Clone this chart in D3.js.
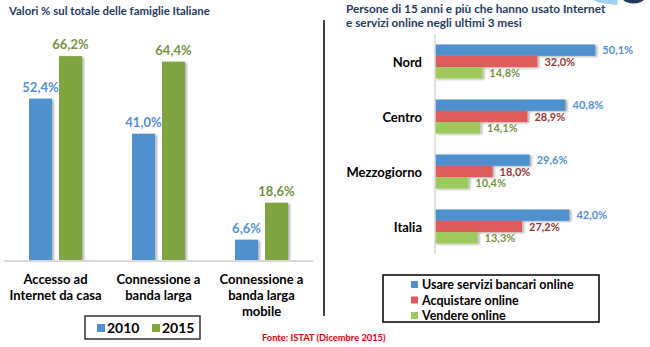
<!DOCTYPE html>
<html>
<head>
<meta charset="utf-8">
<script src="https://cdn.jsdelivr.net/npm/d3@7"></script>
<style>
  body { margin: 0; background: #fff; }
  svg { display: block; font-family: Lato, "Open Sans", sans-serif; }
</style>
</head>
<body>
<div id="chart"></div>
<script>
// Famiglie: accesso e connessione
const categories = ["Accesso ad\nInternet da casa", "Connessione a\nbanda larga", "Connessione a\nbanda larga\nmobile"];
const years = ["2010", "2015"];
const values2010 = [52.4, 41.0, 6.6];
const values2015 = [66.2, 64.4, 18.6];

// Persone 15+ che usano servizi online
const regions = ["Nord", "Centro", "Mezzogiorno", "Italia"];
const services = ["Usare servizi bancari online", "Acquistare online", "Vendere online"];
const bancari = [50.1, 40.8, 29.6, 42.0];
const acquisti = [32.0, 28.9, 18.0, 27.2];
const vendite = [14.8, 14.1, 10.4, 13.3];

const W = 650, H = 347;
const it = d3.formatLocale({decimal: ",", thousands: ".", grouping: [3], currency: ["", "€"]});
const pct = v => it.format(".1f")(v) + "%";

const navy = "#1F3B63";
const leftFill = {"2010": "#4F90CE", "2015": "#7FA53F"};
const leftText = {"2010": "#4F90D8", "2015": "#77933C"};
const rightFill = ["#4F90CE", "#DE5B5B", "#9CCB5C"];
const rightText = ["#4F90D8", "#953735", "#77933C"];

const svg = d3.select("#chart").append("svg")
    .attr("width", W)
    .attr("height", H);

// soft shadow under the bars
const defs = svg.append("defs");
defs.append("filter")
    .attr("id", "shadow")
    .attr("x", "-20%").attr("y", "-20%").attr("width", "150%").attr("height", "150%")
  .append("feDropShadow")
    .attr("dx", 2).attr("dy", 1).attr("stdDeviation", 1)
    .attr("flood-color", "#000").attr("flood-opacity", 0.3);

// logo corner top right
svg.append("path")
    .attr("d", "M593,0 L618,0 L617,5 L600,3 Z")
    .attr("fill", "#9CD3F0");
svg.append("circle")
    .attr("cx", 633.5).attr("cy", -14).attr("r", 17.5)
    .attr("fill", "#1F3B63");

// ---- left chart ----
svg.append("text")
    .attr("x", 9).attr("y", 15)
    .attr("font-size", 11.4).attr("font-weight", "bold")
    .attr("fill", navy)
    .text("Valori % sul totale delle famiglie Italiane");

const base = 260;
const x0 = d3.scaleBand()
    .domain(categories)
    .range([4, 313]);

const x1 = d3.scaleBand()
    .domain(years)
    .range([x0.bandwidth() / 2 - 26.5, x0.bandwidth() / 2 + 26.5])
    .paddingInner(0.233);

const yL = d3.scaleLinear()
    .domain([0, 75])
    .range([base, 29]);

const leftData = categories.map((c, i) => ({
    cat: c,
    vals: [{year: "2010", v: values2010[i]}, {year: "2015", v: values2015[i]}]
}));

const groups = svg.selectAll("g.grp")
    .data(leftData)
    .enter()
  .append("g")
    .attr("class", "grp")
    .attr("transform", d => `translate(${x0(d.cat)},0)`);

groups.selectAll("rect")
    .data(d => d.vals)
    .enter()
  .append("rect")
    .attr("x", d => x1(d.year))
    .attr("y", d => yL(d.v))
    .attr("width", x1.bandwidth())
    .attr("height", d => base - yL(d.v))
    .attr("fill", d => leftFill[d.year])
    .attr("filter", "url(#shadow)");

groups.selectAll("text.val")
    .data(d => d.vals)
    .enter()
  .append("text")
    .attr("class", "val")
    .attr("x", d => x1(d.year) + x1.bandwidth() / 2)
    .attr("y", d => yL(d.v) - 7)
    .attr("text-anchor", "middle")
    .attr("font-size", 13).attr("font-weight", "bold")
    .attr("fill", d => leftText[d.year])
    .text(d => pct(d.v));

// baseline
svg.append("line")
    .attr("x1", 4).attr("x2", 313)
    .attr("y1", base + 1).attr("y2", base + 1)
    .attr("stroke", "#D9D9D9").attr("stroke-width", 2);

// category labels
svg.selectAll("text.cat")
    .data(categories)
    .enter()
  .append("text")
    .attr("class", "cat")
    .attr("text-anchor", "middle")
    .attr("font-size", 13).attr("font-weight", "bold")
    .attr("fill", "#000")
    .each(function(d) {
        d3.select(this).selectAll("tspan")
            .data(d.split("\n"))
            .enter()
          .append("tspan")
            .attr("x", x0(d) + x0.bandwidth() / 2)
            .attr("y", (l, j) => 284 + j * 16)
            .text(l => l);
    });

// legend
const legL = svg.append("g");
legL.append("rect")
    .attr("x", 85).attr("y", 316).attr("width", 115).attr("height", 23)
    .attr("fill", "#fff").attr("stroke", "#333").attr("stroke-width", 1.5);
const legItems = legL.selectAll("g")
    .data(years)
    .enter()
  .append("g")
    .attr("transform", (d, i) => `translate(${97 + i * 55},324)`);
legItems.append("rect")
    .attr("width", 8).attr("height", 8)
    .attr("fill", d => leftFill[d]);
legItems.append("text")
    .attr("x", 10).attr("y", 9)
    .attr("font-size", 14).attr("font-weight", "bold")
    .text(d => d);

// source
svg.append("text")
    .attr("x", 262).attr("y", 341)
    .attr("font-size", 9.3).attr("font-weight", "bold")
    .attr("fill", "#E00000")
    .text("Fonte: ISTAT (Dicembre 2015)");

// divider
svg.append("line")
    .attr("x1", 324).attr("x2", 324)
    .attr("y1", 20).attr("y2", 316)
    .attr("stroke", "#000").attr("stroke-width", 1.5);

// ---- right chart ----
const rTitle = svg.append("text")
    .attr("font-size", 11.8).attr("font-weight", "bold")
    .attr("fill", navy);
["Persone di 15 anni e più che hanno usato Internet", "e servizi online negli ultimi 3 mesi"]
    .forEach((l, j) => rTitle.append("tspan").attr("x", 346).attr("y", 13 + j * 14).text(l));

const y0 = d3.scaleBand()
    .domain(regions)
    .range([34, 254]);

const y1 = d3.scaleBand()
    .domain(services)
    .range([(y0.bandwidth() - 34) / 2, (y0.bandwidth() + 34) / 2]);

const xR = d3.scaleLinear()
    .domain([0, 60])
    .range([435, 627]);

const series = [bancari, acquisti, vendite];
const rightData = regions.map((r, i) => ({
    region: r,
    vals: services.map((s, k) => ({s: s, k: k, v: series[k][i]}))
}));

const rows = svg.selectAll("g.row")
    .data(rightData)
    .enter()
  .append("g")
    .attr("class", "row")
    .attr("transform", d => `translate(0,${y0(d.region)})`);

rows.selectAll("rect")
    .data(d => d.vals)
    .enter()
  .append("rect")
    .attr("x", xR(0))
    .attr("y", d => y1(d.s))
    .attr("width", d => xR(d.v) - xR(0))
    .attr("height", y1.bandwidth())
    .attr("fill", d => rightFill[d.k])
    .attr("filter", "url(#shadow)");

rows.selectAll("text.val")
    .data(d => d.vals)
    .enter()
  .append("text")
    .attr("class", "val")
    .attr("x", d => xR(d.v) + 7)
    .attr("y", d => y1(d.s) + y1.bandwidth() / 2 + 4)
    .attr("font-size", 11).attr("font-weight", "bold")
    .attr("fill", d => rightText[d.k])
    .text(d => pct(d.v));

rows.append("text")
    .attr("x", 422)
    .attr("y", y0.bandwidth() / 2 + 5)
    .attr("text-anchor", "end")
    .attr("font-size", 13).attr("font-weight", "bold")
    .attr("fill", "#000")
    .text(d => d.region);

// vertical axis
svg.append("line")
    .attr("x1", 435).attr("x2", 435)
    .attr("y1", 34).attr("y2", 254)
    .attr("stroke", "#D9D9D9").attr("stroke-width", 1.5);

// legend
const legR = svg.append("g");
legR.append("rect")
    .attr("x", 383).attr("y", 275).attr("width", 216).attr("height", 47)
    .attr("fill", "#fff").attr("stroke", "#000").attr("stroke-width", 1.5);
const legRItems = legR.selectAll("g")
    .data(services)
    .enter()
  .append("g")
    .attr("transform", (d, i) => `translate(411,${281 + i * 15.5})`);
legRItems.append("rect")
    .attr("width", 7).attr("height", 7)
    .attr("fill", (d, i) => rightFill[i]);
legRItems.append("text")
    .attr("x", 11).attr("y", 8)
    .attr("font-size", 12.5).attr("font-weight", "bold")
    .attr("fill", "#000")
    .text(d => d);
</script>
</body>
</html>
